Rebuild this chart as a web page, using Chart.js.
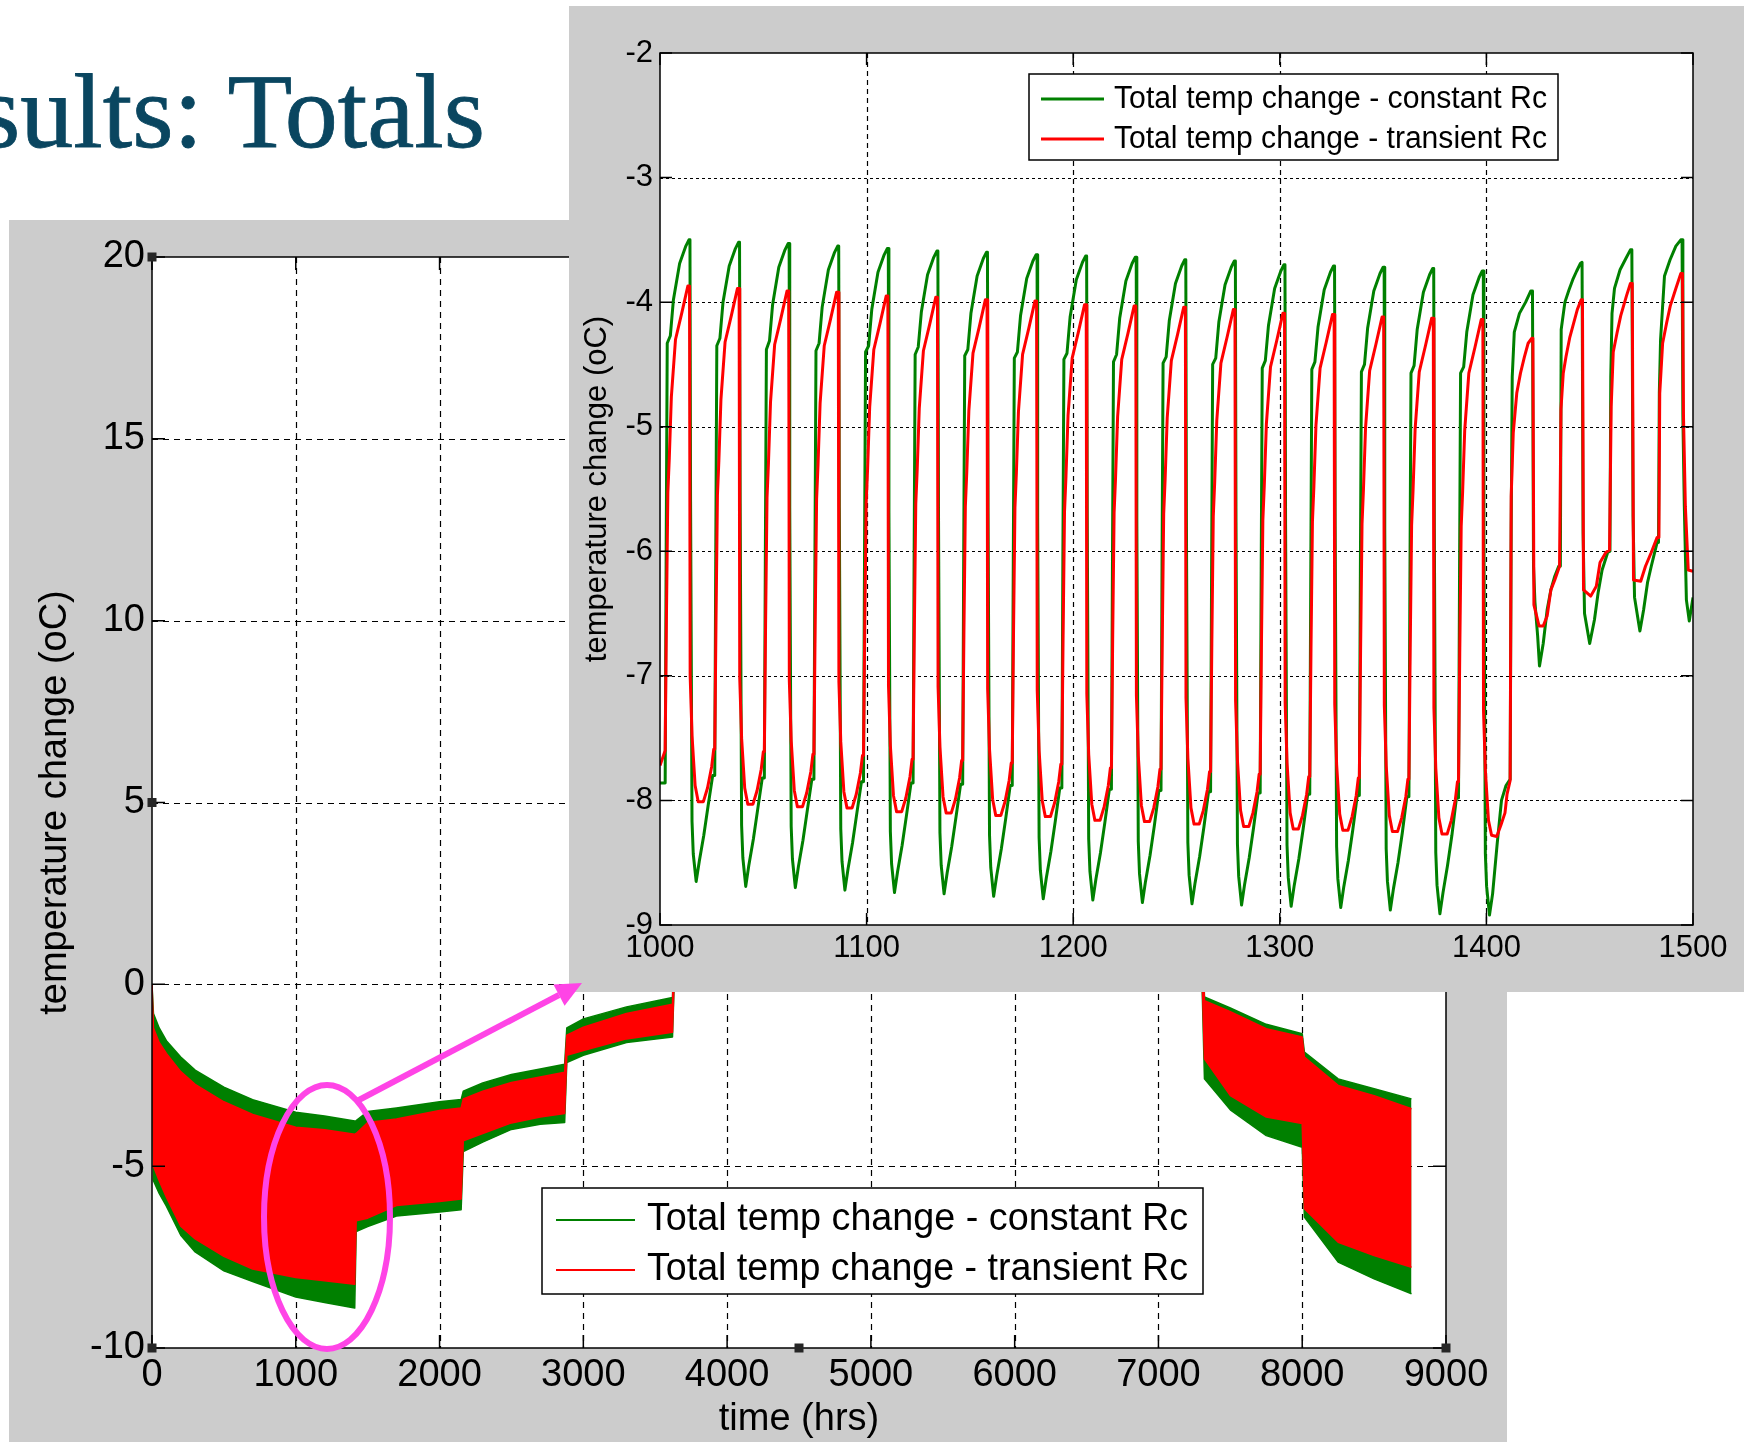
<!DOCTYPE html>
<html><head><meta charset="utf-8">
<script src="https://cdn.jsdelivr.net/npm/chart.js@4.4.0/dist/chart.umd.min.js"></script>
<style>
html,body{margin:0;padding:0;background:#fff;width:1744px;height:1442px;overflow:hidden;position:relative;}
#title{position:absolute;right:1259px;top:59px;font-family:'Liberation Serif','Times New Roman',serif;font-size:106px;line-height:106px;color:#0a4660;-webkit-text-stroke:0.8px #0a4660;white-space:nowrap;z-index:0;}
#mainWrap{position:absolute;left:9px;top:220px;width:1498px;height:1222px;background:#cccccc;z-index:1;}
#insetWrap{position:absolute;left:569px;top:6px;width:1175px;height:986px;background:#cccccc;z-index:2;}
#anno{position:absolute;left:0;top:0;z-index:3;}
canvas{display:block;}
</style></head>
<body>
<div id="title">Results: Totals</div>
<div id="mainWrap"><canvas id="mainChart" width="1498" height="1222"></canvas></div>
<div id="insetWrap"><canvas id="insetChart" width="1175" height="986"></canvas></div>
<svg id="anno" width="1744" height="1442">
  <ellipse cx="327" cy="1217" rx="63" ry="132" fill="none" stroke="#ff44e6" stroke-width="6"/>
  <line x1="357" y1="1101" x2="559" y2="995" stroke="#ff44e6" stroke-width="6"/>
  <polygon points="582,983 564.6,1005.7 553.4,984.5" fill="#ff44e6"/>
</svg>
<script>
// ---------- labels ----------
const seriesLabels = ['Total temp change - constant Rc', 'Total temp change - transient Rc'];
const xTitle = 'time (hrs)';
const yTitle = 'temperature change (oC)';

// ---------- main chart: band envelopes ----------
const mainHours  = [0, 10, 50, 100, 200, 300, 500, 700, 1000, 1200, 1410, 1420, 1500, 1700, 2000, 2150, 2165, 2300, 2500, 2700, 2870, 2885, 3000, 3300, 3620, 3640, 4500, 5500, 6500, 7300, 7320, 7500, 7750, 8000, 8015, 8250, 8500, 8760];
const greenUpper = [0, -0.8, -1.2, -1.55, -2.0, -2.36, -2.83, -3.17, -3.52, -3.62, -3.76, -3.75, -3.5, -3.4, -3.23, -3.17, -2.94, -2.71, -2.48, -2.33, -2.2, -1.2, -0.95, -0.62, -0.36, 3.0, 5.0, 6.0, 5.0, 2.5, -0.35, -0.65, -1.1, -1.36, -1.86, -2.6, -2.87, -3.15];
const greenLower = [0, -5.4, -5.75, -6.1, -6.9, -7.36, -7.88, -8.17, -8.6, -8.75, -8.9, -6.8, -6.66, -6.37, -6.26, -6.2, -4.6, -4.34, -3.99, -3.85, -3.8, -2.15, -1.95, -1.6, -1.45, 1.0, 2.0, 3.0, 2.0, 0.5, -2.6, -3.45, -4.16, -4.48, -6.4, -7.64, -8.1, -8.51];
const redUpper   = [0, -1.2, -1.6, -1.9, -2.4, -2.75, -3.23, -3.58, -3.93, -4.0, -4.12, -4.1, -3.8, -3.7, -3.47, -3.4, -3.15, -2.94, -2.7, -2.55, -2.42, -1.4, -1.18, -0.8, -0.55, 2.5, 4.5, 5.5, 4.5, 2.0, -0.45, -0.75, -1.22, -1.45, -2.0, -2.78, -3.06, -3.42];
const redLower   = [0, -5.0, -5.4, -5.85, -6.65, -7.0, -7.48, -7.83, -8.06, -8.15, -8.25, -6.5, -6.43, -6.08, -5.97, -5.9, -4.3, -4.1, -3.81, -3.65, -3.55, -1.95, -1.82, -1.5, -1.32, 1.2, 2.3, 3.3, 2.3, 0.7, -2.05, -3.06, -3.65, -3.83, -6.17, -7.09, -7.46, -7.78];

// ---------- inset chart: hourly cycles 1000..1500 h ----------
const insetLeadT = [1000];
const insetLeadGreen = [-7.86];
const insetLeadRed = [-7.72];
const cycleStart = [1002.5, 1026.5, 1050.5, 1074.5, 1098.5, 1122.5, 1146.5, 1170.5, 1194.5, 1218.5, 1242.5, 1266.5, 1290.5, 1314.5, 1338.5, 1362.5, 1386.5];
const greenOffsets = [0, 0.5, 1, 2.5, 4, 7, 10, 11.5, 12, 12.3, 13, 13.6, 15, 16.5, 18.7, 20.8, 23];
const greenCycles = [
 [-7.86, -5.96, -4.33, -4.27, -3.98, -3.69, -3.55, -3.50, -3.50, -5.60, -8.17, -8.43, -8.65, -8.49, -8.28, -8.04, -7.80],
 [-7.80, -5.98, -4.35, -4.29, -4.00, -3.71, -3.57, -3.52, -3.52, -5.62, -8.20, -8.46, -8.69, -8.52, -8.31, -8.07, -7.82],
 [-7.82, -6.00, -4.38, -4.31, -4.02, -3.72, -3.58, -3.53, -3.53, -5.64, -8.21, -8.47, -8.70, -8.53, -8.32, -8.08, -7.83],
 [-7.83, -6.01, -4.39, -4.33, -4.04, -3.74, -3.60, -3.55, -3.55, -5.65, -8.23, -8.49, -8.72, -8.55, -8.34, -8.10, -7.85],
 [-7.85, -6.02, -4.40, -4.35, -4.06, -3.76, -3.62, -3.57, -3.57, -5.67, -8.25, -8.51, -8.74, -8.57, -8.36, -8.12, -7.86],
 [-7.86, -6.04, -4.42, -4.36, -4.08, -3.78, -3.64, -3.59, -3.59, -5.69, -8.26, -8.52, -8.75, -8.58, -8.37, -8.13, -7.87],
 [-7.87, -6.05, -4.43, -4.38, -4.09, -3.79, -3.65, -3.60, -3.60, -5.70, -8.28, -8.54, -8.77, -8.60, -8.39, -8.15, -7.88],
 [-7.88, -6.07, -4.45, -4.40, -4.11, -3.81, -3.67, -3.62, -3.62, -5.72, -8.30, -8.56, -8.79, -8.62, -8.41, -8.17, -7.90],
 [-7.90, -6.08, -4.46, -4.41, -4.12, -3.82, -3.68, -3.63, -3.63, -5.73, -8.31, -8.57, -8.80, -8.63, -8.42, -8.18, -7.91],
 [-7.91, -6.10, -4.48, -4.42, -4.13, -3.83, -3.69, -3.64, -3.64, -5.74, -8.33, -8.59, -8.82, -8.65, -8.44, -8.20, -7.92],
 [-7.92, -6.11, -4.49, -4.44, -4.15, -3.85, -3.71, -3.66, -3.66, -5.76, -8.34, -8.60, -8.83, -8.66, -8.45, -8.21, -7.93],
 [-7.93, -6.12, -4.50, -4.45, -4.16, -3.86, -3.72, -3.67, -3.67, -5.77, -8.35, -8.61, -8.84, -8.67, -8.46, -8.22, -7.94],
 [-7.94, -6.14, -4.53, -4.47, -4.19, -3.89, -3.75, -3.70, -3.70, -5.79, -8.36, -8.62, -8.85, -8.68, -8.47, -8.23, -7.95],
 [-7.95, -6.15, -4.54, -4.48, -4.20, -3.90, -3.76, -3.71, -3.71, -5.80, -8.37, -8.63, -8.86, -8.69, -8.48, -8.24, -7.96],
 [-7.96, -6.16, -4.56, -4.50, -4.21, -3.91, -3.77, -3.72, -3.72, -5.81, -8.39, -8.65, -8.88, -8.71, -8.50, -8.26, -7.97],
 [-7.97, -6.17, -4.57, -4.51, -4.22, -3.92, -3.78, -3.73, -3.73, -5.82, -8.42, -8.68, -8.91, -8.74, -8.52, -8.28, -7.98],
 [-7.98, -6.18, -4.57, -4.52, -4.24, -3.94, -3.80, -3.75, -3.75, -5.84, -8.43, -8.69, -8.92, -8.75, -8.35, -8.00, -7.88]
];
const redOffsets = [0, 0.6, 1.3, 2, 3, 5, 8, 11, 11.8, 12.1, 13, 14.5, 16, 18.5, 20.5, 22.5, 23.5];
const redCycles = [
 [-7.60, -6.55, -5.53, -5.25, -4.76, -4.30, -4.09, -3.87, -3.87, -7.00, -7.48, -7.88, -8.01, -8.01, -7.90, -7.73, -7.59],
 [-7.59, -6.57, -5.55, -5.27, -4.78, -4.32, -4.11, -3.89, -3.89, -7.02, -7.50, -7.90, -8.03, -8.03, -7.92, -7.75, -7.61],
 [-7.61, -6.59, -5.57, -5.29, -4.80, -4.34, -4.13, -3.91, -3.91, -7.04, -7.52, -7.92, -8.05, -8.05, -7.94, -7.77, -7.63],
 [-7.63, -6.60, -5.58, -5.30, -4.81, -4.35, -4.14, -3.92, -3.92, -7.05, -7.53, -7.93, -8.06, -8.06, -7.95, -7.78, -7.64],
 [-7.64, -6.63, -5.61, -5.33, -4.84, -4.38, -4.17, -3.95, -3.95, -7.08, -7.56, -7.96, -8.09, -8.09, -7.98, -7.81, -7.67],
 [-7.67, -6.64, -5.62, -5.34, -4.85, -4.39, -4.18, -3.96, -3.96, -7.09, -7.57, -7.97, -8.10, -8.10, -7.99, -7.82, -7.68],
 [-7.68, -6.66, -5.64, -5.36, -4.87, -4.41, -4.20, -3.98, -3.98, -7.11, -7.59, -7.99, -8.12, -8.12, -8.01, -7.84, -7.70],
 [-7.70, -6.67, -5.65, -5.37, -4.88, -4.42, -4.21, -3.99, -3.99, -7.12, -7.60, -8.00, -8.13, -8.13, -8.02, -7.85, -7.71],
 [-7.71, -6.70, -5.68, -5.40, -4.91, -4.45, -4.24, -4.02, -4.02, -7.15, -7.63, -8.03, -8.16, -8.16, -8.05, -7.88, -7.74],
 [-7.74, -6.71, -5.69, -5.41, -4.92, -4.46, -4.25, -4.03, -4.03, -7.16, -7.64, -8.04, -8.17, -8.17, -8.06, -7.89, -7.75],
 [-7.75, -6.72, -5.70, -5.42, -4.93, -4.47, -4.26, -4.04, -4.04, -7.18, -7.66, -8.06, -8.19, -8.19, -8.08, -7.91, -7.77],
 [-7.77, -6.74, -5.72, -5.44, -4.95, -4.49, -4.28, -4.06, -4.06, -7.20, -7.68, -8.08, -8.21, -8.21, -8.10, -7.93, -7.79],
 [-7.79, -6.77, -5.75, -5.47, -4.98, -4.52, -4.31, -4.09, -4.09, -7.22, -7.70, -8.10, -8.23, -8.23, -8.12, -7.95, -7.81],
 [-7.81, -6.78, -5.76, -5.48, -4.99, -4.53, -4.32, -4.10, -4.10, -7.23, -7.71, -8.11, -8.24, -8.24, -8.13, -7.96, -7.82],
 [-7.82, -6.80, -5.78, -5.50, -5.01, -4.55, -4.34, -4.12, -4.12, -7.24, -7.72, -8.12, -8.25, -8.25, -8.14, -7.97, -7.83],
 [-7.83, -6.81, -5.79, -5.51, -5.02, -4.56, -4.35, -4.13, -4.13, -7.26, -7.74, -8.14, -8.27, -8.27, -8.16, -7.99, -7.85],
 [-7.85, -6.82, -5.80, -5.52, -5.03, -4.57, -4.36, -4.14, -4.14, -7.28, -7.76, -8.16, -8.28, -8.29, -8.20, -8.10, -7.95]
];
const tailGreenT = [1411.5, 1412, 1412.5, 1413.5, 1416, 1419, 1421.5, 1422.3, 1422.8, 1423.5, 1424.8, 1425.7, 1427.5, 1429.4, 1431.2, 1433.1, 1435, 1435.8, 1436.2, 1438, 1440, 1441.8, 1443.7, 1445.5, 1446.3, 1446.8, 1447.5, 1450, 1452.3, 1454.1, 1456, 1458.7, 1459.8, 1460.2, 1460.8, 1462, 1464.7, 1467.5, 1469.7, 1470.4, 1471, 1471.7, 1474.3, 1476.1, 1478, 1479.8, 1482.6, 1483.3, 1483.7, 1484.3, 1486.2, 1488.9, 1491.7, 1494.1, 1494.7, 1495.1, 1495.8, 1496.8, 1498.2, 1500];
const tailGreenV = [-7.83, -5.8, -4.6, -4.24, -4.09, -4.0, -3.91, -3.91, -6.12, -6.41, -6.68, -6.92, -6.74, -6.47, -6.31, -6.2, -6.12, -6.12, -4.22, -4.0, -3.9, -3.82, -3.75, -3.69, -3.68, -5.85, -6.5, -6.74, -6.55, -6.33, -6.15, -6.01, -6.0, -4.6, -4.09, -3.89, -3.74, -3.65, -3.58, -3.58, -5.72, -6.37, -6.64, -6.47, -6.25, -6.12, -5.93, -5.93, -4.73, -4.3, -3.79, -3.66, -3.55, -3.5, -3.5, -4.92, -5.64, -6.39, -6.56, -6.37];
const tailRedT = [1411.5, 1412, 1413, 1414.7, 1416.5, 1418.4, 1420.2, 1422, 1422.5, 1423, 1425.5, 1427.5, 1429.4, 1431.2, 1433.1, 1435.4, 1436.1, 1437.2, 1438.5, 1440.4, 1442.2, 1444, 1445.9, 1446.5, 1447, 1450.5, 1453.2, 1455, 1457.8, 1459.6, 1460.4, 1461.4, 1463.2, 1465, 1467.8, 1469.7, 1470.6, 1471.2, 1474.7, 1477, 1479.8, 1482.6, 1483.5, 1483.9, 1485.3, 1487.2, 1489, 1491.7, 1494.1, 1494.9, 1495.4, 1496.3, 1497.7, 1500];
const tailRedV = [-7.84, -5.56, -5.05, -4.73, -4.57, -4.44, -4.33, -4.29, -4.29, -6.43, -6.6, -6.6, -6.52, -6.31, -6.23, -6.12, -4.86, -4.57, -4.44, -4.28, -4.17, -4.06, -3.98, -3.98, -6.31, -6.36, -6.28, -6.09, -6.01, -5.99, -4.84, -4.4, -4.25, -4.11, -3.95, -3.85, -3.85, -6.23, -6.24, -6.12, -6.01, -5.89, -5.89, -4.73, -4.33, -4.17, -4.03, -3.89, -3.77, -3.77, -4.92, -5.64, -6.15, -6.16];

// ---------- helpers ----------
const GREEN = '#008000', RED = '#ff0000';
const FONT = "'Liberation Sans', Arial, Helvetica, sans-serif";
Chart.defaults.font.family = FONT;
Chart.defaults.color = '#000';

function pairs(ts, vs) { return ts.map((t, i) => ({x: t, y: vs[i]})); }
function buildInset(leadV, rows, offsets, tailT, tailV) {
  const pts = pairs(insetLeadT, leadV);
  cycleStart.forEach((s, k) => offsets.forEach((o, j) => pts.push({x: s + o, y: rows[k][j]})));
  return pts.concat(pairs(tailT, tailV));
}

const matlabAxes = {
  id: 'matlabAxes',
  beforeDatasetsDraw(chart, args, o) {
    const {ctx, chartArea: a, scales: {x, y}} = chart;
    ctx.save();
    ctx.fillStyle = '#fff';
    ctx.fillRect(a.left, a.top, a.right - a.left, a.bottom - a.top);
    ctx.strokeStyle = '#000'; ctx.lineWidth = 1.2;
    ctx.setLineDash(o.dashV);
    ctx.beginPath();
    x.ticks.forEach(t => { const p = Math.round(x.getPixelForValue(t.value)) + 0.5;
      if (p > a.left + 2 && p < a.right - 2) { ctx.moveTo(p, a.top); ctx.lineTo(p, a.bottom); } });
    ctx.stroke();
    ctx.setLineDash(o.dashH);
    ctx.beginPath();
    y.ticks.forEach(t => { const p = Math.round(y.getPixelForValue(t.value)) + 0.5;
      if (p > a.top + 2 && p < a.bottom - 2) { ctx.moveTo(a.left, p); ctx.lineTo(a.right, p); } });
    ctx.stroke();
    ctx.restore();
  },
  afterDatasetsDraw(chart, args, o) {
    const {ctx, chartArea: a, scales: {x, y}} = chart;
    ctx.save();
    ctx.setLineDash([]);
    ctx.strokeStyle = '#000'; ctx.lineWidth = o.boxWidth;
    ctx.beginPath();
    x.ticks.forEach(t => { const p = x.getPixelForValue(t.value);
      ctx.moveTo(p, a.bottom); ctx.lineTo(p, a.bottom - o.tick);
      ctx.moveTo(p, a.top); ctx.lineTo(p, a.top + o.tick); });
    y.ticks.forEach(t => { const p = y.getPixelForValue(t.value);
      ctx.moveTo(a.left, p); ctx.lineTo(a.left + o.tick, p);
      ctx.moveTo(a.right, p); ctx.lineTo(a.right - o.tick, p); });
    ctx.stroke();
    ctx.strokeRect(a.left, a.top, a.right - a.left, a.bottom - a.top);
    if (o.handles) {
      ctx.fillStyle = '#262626';
      const mx = (a.left + a.right) / 2, my = (a.top + a.bottom) / 2, s = 9;
      [[a.left, a.top], [mx, a.top], [a.right, a.top], [a.left, my], [a.right, my], [a.left, a.bottom], [mx, a.bottom], [a.right, a.bottom]]
        .forEach(([hx, hy]) => ctx.fillRect(hx - s / 2, hy - s / 2, s, s));
    }
    // legend
    const L = o.legend;
    ctx.fillStyle = '#fff';
    ctx.fillRect(L.x, L.y, L.w, L.h);
    ctx.strokeStyle = '#000'; ctx.lineWidth = 1.5;
    ctx.strokeRect(L.x, L.y, L.w, L.h);
    L.datasets.forEach((di, i) => {
      const ds = chart.data.datasets[di];
      const yy = L.rowY[i];
      ctx.strokeStyle = ds.borderColor; ctx.lineWidth = L.lineWidth;
      ctx.beginPath(); ctx.moveTo(L.lineX0, yy); ctx.lineTo(L.lineX1, yy); ctx.stroke();
      ctx.font = L.fontSize + 'px ' + FONT;
      ctx.fillStyle = '#000'; ctx.textBaseline = 'middle'; ctx.textAlign = 'left';
      const w = ctx.measureText(ds.label).width;
      ctx.save(); ctx.translate(L.textX, yy); ctx.scale(L.textWidth / w, 1);
      ctx.fillText(ds.label, 0, 0); ctx.restore();
    });
    ctx.restore();
  }
};

function lineDs(label, data, color, width, extra) {
  return Object.assign({label, data, borderColor: color, backgroundColor: color, borderWidth: width,
    pointRadius: 0, tension: 0, borderJoinStyle: 'round', fill: false}, extra || {});
}

// ---------- main chart ----------
new Chart(document.getElementById('mainChart'), {
  type: 'line',
  data: { datasets: [
    lineDs(seriesLabels[0], pairs(mainHours, greenUpper), GREEN, 1.5, {fill: '+1', order: 2}),
    lineDs('', pairs(mainHours, greenLower), GREEN, 1.5, {order: 2}),
    lineDs(seriesLabels[1], pairs(mainHours, redUpper), RED, 1.5, {fill: '+1', order: 1}),
    lineDs('', pairs(mainHours, redLower), RED, 1.5, {order: 1})
  ]},
  options: {
    responsive: false, animation: false, events: [],
    layout: {padding: {left: 0, top: 37, right: 61, bottom: 0}},
    plugins: {
      legend: {display: false}, tooltip: {enabled: false},
      matlabAxes: {dashV: [6, 5], dashH: [6, 5], boxWidth: 1.5, tick: 13, handles: true,
        legend: {x: 533, y: 968, w: 661, h: 106, rowY: [1000, 1050], lineX0: 547, lineX1: 626,
                 textX: 638, textWidth: 541, fontSize: 38, lineWidth: 2, datasets: [0, 2]}}
    },
    scales: {
      x: {type: 'linear', min: 0, max: 9000,
          ticks: {stepSize: 1000, autoSkip: false, maxRotation: 0, padding: 5, font: {size: 38}, color: '#000', callback: v => String(v)},
          grid: {display: false, drawTicks: false}, border: {display: false},
          title: {display: true, text: xTitle, font: {size: 38}, color: '#000', padding: {top: 0, bottom: 0}},
          afterFit(s) { s.height = 94; }},
      y: {type: 'linear', min: -10, max: 20,
          ticks: {stepSize: 5, padding: 7, font: {size: 38}, color: '#000', callback: v => String(v)},
          grid: {display: false, drawTicks: false}, border: {display: false},
          title: {display: true, text: yTitle, font: {size: 38}, color: '#000', padding: {top: 24, bottom: 0}},
          afterFit(s) { s.width = 143; }}
    }
  },
  plugins: [matlabAxes]
});

// ---------- inset chart ----------
new Chart(document.getElementById('insetChart'), {
  type: 'line',
  data: { datasets: [
    lineDs(seriesLabels[0], buildInset(insetLeadGreen, greenCycles, greenOffsets, tailGreenT, tailGreenV), GREEN, 3, {order: 2}),
    lineDs(seriesLabels[1], buildInset(insetLeadRed, redCycles, redOffsets, tailRedT, tailRedV), RED, 3, {order: 1})
  ]},
  options: {
    responsive: false, animation: false, events: [],
    layout: {padding: {left: 0, top: 47, right: 51, bottom: 0}},
    plugins: {
      legend: {display: false}, tooltip: {enabled: false},
      matlabAxes: {dashV: [5, 4], dashH: [3, 3], boxWidth: 1.5, tick: 12, handles: false,
        legend: {x: 460, y: 68, w: 529, h: 86, rowY: [93, 133], lineX0: 472, lineX1: 535,
                 textX: 545, textWidth: 433, fontSize: 31, lineWidth: 3, datasets: [0, 1]}}
    },
    scales: {
      x: {type: 'linear', min: 1000, max: 1500,
          ticks: {stepSize: 100, autoSkip: false, maxRotation: 0, padding: 5, font: {size: 31}, color: '#000', callback: v => String(v)},
          grid: {display: false, drawTicks: false}, border: {display: false},
          afterFit(s) { s.height = 67; }},
      y: {type: 'linear', min: -9, max: -2,
          ticks: {stepSize: 1, padding: 7, font: {size: 31}, color: '#000', callback: v => String(v)},
          grid: {display: false, drawTicks: false}, border: {display: false},
          title: {display: true, text: yTitle, font: {size: 31}, color: '#000', padding: {top: 10, bottom: 0}},
          afterFit(s) { s.width = 91; }}
    }
  },
  plugins: [matlabAxes]
});
</script>
</body></html>
